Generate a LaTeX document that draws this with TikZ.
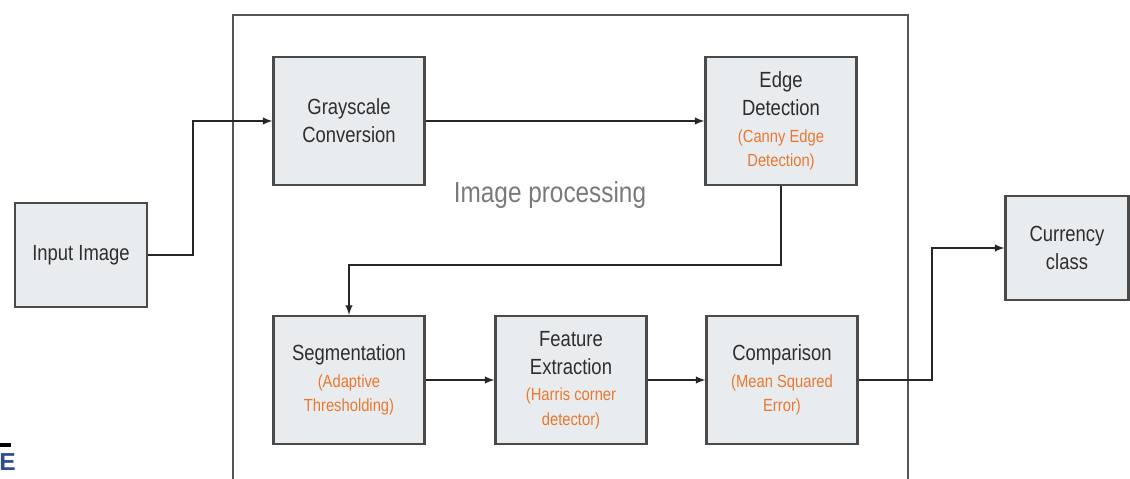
\documentclass[tikz,border=0pt]{standalone}
\usepackage{fontspec}
\setmainfont{Liberation Sans}[FakeStretch=0.84]
\newfontfamily\plainsans{Liberation Sans}
\definecolor{boxfill}{HTML}{E9ECEF}
\definecolor{boxline}{HTML}{4A4A4A}
\definecolor{txt}{HTML}{2E2E2E}
\definecolor{note}{HTML}{E8782F}
\definecolor{frame}{HTML}{555555}
\definecolor{caption}{HTML}{7A7A7A}
\definecolor{logo}{HTML}{2C4E8F}
\newcommand{\note}[1]{{\color{note}\fontsize{10}{12}\selectfont #1}}
\begin{document}
\begin{tikzpicture}[x=0.02cm,y=-0.02cm]
      \tikzstyle{block}=[draw=boxline,fill=boxfill,line width=1.2pt,text=txt,align=center,
        minimum width=3.02cm,minimum height=2.56cm,font=\fontsize{12.5}{16}\selectfont]
      \tikzstyle{small}=[block,minimum width=2.56cm,minimum height=2.08cm]
      \tikzstyle{edge}=[draw,black!85,line width=0.9pt,->,>=latex]
      \useasboundingbox (0,0) rectangle (1130,479);
      % image processing frame
      \path[draw,frame,line width=1.1pt] (233,479) -- (233,15) -- (908,15) -- (908,479);
      \node[caption,font=\fontsize{16.5}{20}\selectfont] (title) at (550,195) {Image processing};
      \node[small,minimum width=2.64cm] (In) at (81,255) {Input Image};
      \node[block] (Gray) at (349,121) {Grayscale\\Conversion};
      \node[block] (Edge) at (781,121) {Edge\\Detection\\[-1pt]\note{(Canny Edge}\\[-2pt]\note{Detection)}};
      \node[block] (Seg) at (349,380) {Segmentation\\[-1pt]\note{(Adaptive}\\[-2pt]\note{Thresholding)}};
      \node[block] (Feat) at (571,380) {Feature\\Extraction\\[-1pt]\note{(Harris corner}\\[-2pt]\note{detector)}};
      \node[block] (Comp) at (782,380) {Comparison\\[-1pt]\note{(Mean Squared}\\[-2pt]\note{Error)}};
      \node[small,minimum width=2.46cm] (Cur) at (1067,248) {Currency\\class};
      \coordinate (j1) at (193,255);
      \coordinate (j2) at (781,265);
      \coordinate (j3) at (932,380);
      \path[edge] (In) -- (j1) |- (Gray);
      \path[edge] (Gray) -- (Edge);
      \path[edge] (Edge) -- (j2) -| (Seg);
      \path[edge] (Seg) -- (Feat);
      \path[edge] (Feat) -- (Comp);
      \path[edge] (Comp) -- (j3) |- (Cur);
      % cut-off mark at the lower left
      \fill[black] (0,443) rectangle (11,447);
      \node[logo,anchor=west,inner sep=0pt,font=\plainsans\bfseries\fontsize{14}{14}\selectfont] (mark) at (-1,462) {E};
    \end{tikzpicture}
\end{document}
